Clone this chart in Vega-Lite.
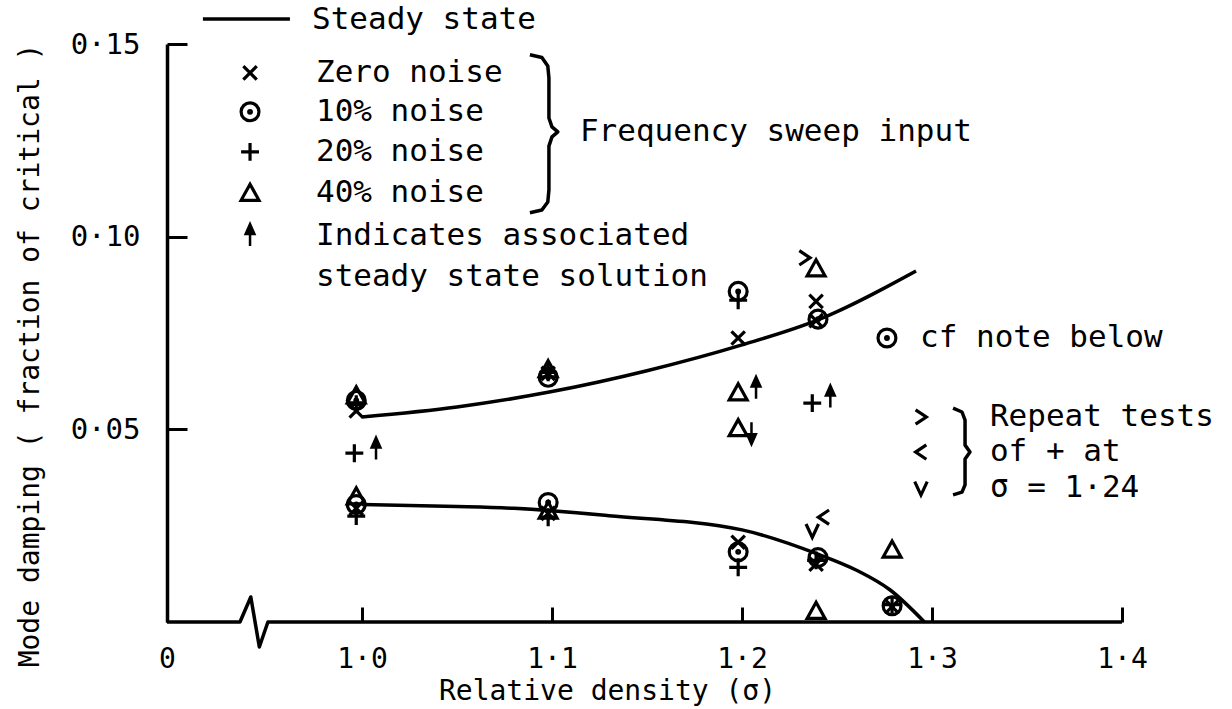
{
  "$schema": "https://vega.github.io/schema/vega-lite/v6.json",
  "width": 955,
  "height": 578,
  "autosize": {"type": "none"},
  "padding": {"left": 167, "top": 44, "right": 110, "bottom": 87},
  "background": "white",
  "config": {"view": {"stroke": null}, "font": "DejaVu Sans Mono"},
  "datasets": {
    "curves": [
      {"id": "upper", "i": 1, "x": 1.0, "y": 0.0532},
      {"id": "upper", "i": 2, "x": 1.05, "y": 0.0558},
      {"id": "upper", "i": 3, "x": 1.1, "y": 0.0598},
      {"id": "upper", "i": 4, "x": 1.15, "y": 0.0652},
      {"id": "upper", "i": 5, "x": 1.2, "y": 0.0719},
      {"id": "upper", "i": 6, "x": 1.24, "y": 0.0784},
      {"id": "upper", "i": 7, "x": 1.2916, "y": 0.0911},
      {"id": "lower", "i": 1, "x": 1.0, "y": 0.0305},
      {"id": "lower", "i": 2, "x": 1.05, "y": 0.0300},
      {"id": "lower", "i": 3, "x": 1.08, "y": 0.0295},
      {"id": "lower", "i": 4, "x": 1.13, "y": 0.0276},
      {"id": "lower", "i": 5, "x": 1.2, "y": 0.0239},
      {"id": "lower", "i": 6, "x": 1.24, "y": 0.0176},
      {"id": "lower", "i": 7, "x": 1.26, "y": 0.0135},
      {"id": "lower", "i": 8, "x": 1.278, "y": 0.0083},
      {"id": "lower", "i": 9, "x": 1.296, "y": 0.0},
      {"id": "legend", "i": 1, "x": 0.9163, "y": 0.1565},
      {"id": "legend", "i": 2, "x": 0.9621, "y": 0.1565}
    ],
    "guides": [
      {"id": "base", "i": 1, "x": 0.8974, "y": 0},
      {"id": "base", "i": 2, "x": 0.9358, "y": 0},
      {"id": "base", "i": 3, "x": 0.9415, "y": 0.0065},
      {"id": "base", "i": 4, "x": 0.946, "y": -0.0065},
      {"id": "base", "i": 5, "x": 0.9505, "y": 0},
      {"id": "base", "i": 6, "x": 1.4, "y": 0},
      {"id": "brace1", "i": 1, "x": 1.0884, "y": 0.1472},
      {"id": "brace1", "i": 2, "x": 1.0947, "y": 0.1465},
      {"id": "brace1", "i": 3, "x": 1.0978, "y": 0.1443},
      {"id": "brace1", "i": 4, "x": 1.0984, "y": 0.1412},
      {"id": "brace1", "i": 5, "x": 1.0984, "y": 0.1308},
      {"id": "brace1", "i": 6, "x": 1.1, "y": 0.1285},
      {"id": "brace1", "i": 7, "x": 1.1031, "y": 0.1272},
      {"id": "brace1", "i": 8, "x": 1.1, "y": 0.1259},
      {"id": "brace1", "i": 9, "x": 1.0984, "y": 0.1235},
      {"id": "brace1", "i": 10, "x": 1.0984, "y": 0.1121},
      {"id": "brace1", "i": 11, "x": 1.0978, "y": 0.109},
      {"id": "brace1", "i": 12, "x": 1.0947, "y": 0.1069},
      {"id": "brace1", "i": 13, "x": 1.0884, "y": 0.1062},
      {"id": "brace2", "i": 1, "x": 1.3111, "y": 0.0555},
      {"id": "brace2", "i": 2, "x": 1.3158, "y": 0.0545},
      {"id": "brace2", "i": 3, "x": 1.3174, "y": 0.0524},
      {"id": "brace2", "i": 4, "x": 1.3174, "y": 0.0459},
      {"id": "brace2", "i": 5, "x": 1.32, "y": 0.0441},
      {"id": "brace2", "i": 6, "x": 1.3174, "y": 0.0423},
      {"id": "brace2", "i": 7, "x": 1.3174, "y": 0.0356},
      {"id": "brace2", "i": 8, "x": 1.3158, "y": 0.0337},
      {"id": "brace2", "i": 9, "x": 1.3111, "y": 0.033}
    ],
    "points": [
      {"s": "Zero noise", "x": 0.9411, "y": 0.1425},
      {"s": "10% noise", "x": 0.9411, "y": 0.1324},
      {"s": "20% noise", "x": 0.9411, "y": 0.122},
      {"s": "40% noise", "x": 0.9411, "y": 0.1113},
      {"s": "10% noise", "x": 1.2763, "y": 0.0737},
      {"s": ">", "x": 1.2942, "y": 0.0532},
      {"s": "<", "x": 1.2942, "y": 0.0441},
      {"s": "v", "x": 1.2942, "y": 0.0348},
      {"s": "40% noise", "x": 0.997, "y": 0.0587},
      {"s": "10% noise", "x": 0.997, "y": 0.0575},
      {"s": "Zero noise", "x": 0.997, "y": 0.0548},
      {"s": "20% noise", "x": 0.997, "y": 0.0565},
      {"s": "20% noise", "x": 0.996, "y": 0.0438},
      {"s": "40% noise", "x": 0.997, "y": 0.0325},
      {"s": "10% noise", "x": 0.997, "y": 0.0305},
      {"s": "Zero noise", "x": 0.997, "y": 0.0295},
      {"s": "20% noise", "x": 0.997, "y": 0.0275},
      {"s": "40% noise", "x": 1.098, "y": 0.0655},
      {"s": "10% noise", "x": 1.098, "y": 0.0635},
      {"s": "Zero noise", "x": 1.098, "y": 0.0645},
      {"s": "20% noise", "x": 1.098, "y": 0.0648},
      {"s": "40% noise", "x": 1.098, "y": 0.0288},
      {"s": "10% noise", "x": 1.098, "y": 0.031},
      {"s": "Zero noise", "x": 1.098, "y": 0.0282},
      {"s": "20% noise", "x": 1.098, "y": 0.0272},
      {"s": "10% noise", "x": 1.198, "y": 0.0858},
      {"s": "20% noise", "x": 1.198, "y": 0.0835},
      {"s": "Zero noise", "x": 1.198, "y": 0.0737},
      {"s": "40% noise", "x": 1.198, "y": 0.0595},
      {"s": "40% noise", "x": 1.198, "y": 0.0502},
      {"s": "Zero noise", "x": 1.198, "y": 0.0207},
      {"s": "10% noise", "x": 1.198, "y": 0.0182},
      {"s": "20% noise", "x": 1.198, "y": 0.0142},
      {"s": "40% noise", "x": 1.239, "y": 0.0917},
      {"s": ">", "x": 1.233, "y": 0.0945},
      {"s": "Zero noise", "x": 1.239, "y": 0.0832},
      {"s": "10% noise", "x": 1.24, "y": 0.0786},
      {"s": "Zero noise", "x": 1.239, "y": 0.0782},
      {"s": "20% noise", "x": 1.237, "y": 0.0568},
      {"s": "<", "x": 1.243, "y": 0.0272},
      {"s": "v", "x": 1.237, "y": 0.0238},
      {"s": "10% noise", "x": 1.24, "y": 0.0167},
      {"s": "Zero noise", "x": 1.239, "y": 0.015},
      {"s": "20% noise", "x": 1.239, "y": 0.016},
      {"s": "40% noise", "x": 1.239, "y": 0.0028},
      {"s": "10% noise", "x": 1.279, "y": 0.0042},
      {"s": "Zero noise", "x": 1.279, "y": 0.0040},
      {"s": "20% noise", "x": 1.279, "y": 0.0045},
      {"s": "40% noise", "x": 1.279, "y": 0.0187}
    ],
    "arrows": [
      {"s": "up", "x": 0.9411, "y": 0.1004},
      {"s": "up", "x": 1.0074, "y": 0.045},
      {"s": "up", "x": 1.2074, "y": 0.0608},
      {"s": "down", "x": 1.205, "y": 0.049},
      {"s": "up", "x": 1.2465, "y": 0.0585}
    ],
    "labels": [
      {"t": "Steady state", "x": 0.9737, "y": 0.1562},
      {"t": "Zero noise", "x": 0.9758, "y": 0.1425},
      {"t": "10% noise", "x": 0.9758, "y": 0.1324},
      {"t": "20% noise", "x": 0.9758, "y": 0.122},
      {"t": "40% noise", "x": 0.9758, "y": 0.1113},
      {"t": "Indicates associated", "x": 0.9758, "y": 0.1002},
      {"t": "steady state solution", "x": 0.9758, "y": 0.0895},
      {"t": "Frequency sweep input", "x": 1.1147, "y": 0.1272},
      {"t": "cf note below", "x": 1.2937, "y": 0.0737},
      {"t": "Repeat tests", "x": 1.3305, "y": 0.0532},
      {"t": "of + at", "x": 1.3305, "y": 0.0441},
      {"t": "σ = 1·24", "x": 1.3305, "y": 0.0348}
    ]
  },
  "layer": [
    {
      "data": {"name": "curves"},
      "mark": {"type": "line", "interpolate": "monotone", "stroke": "black", "strokeWidth": 3.5},
      "encoding": {
        "x": {
          "field": "x", "type": "quantitative",
          "scale": {"domain": [0.8974, 1.4], "nice": false, "zero": false},
          "axis": {
            "values": [0.8974, 1.0, 1.1, 1.2, 1.3, 1.4],
            "labelExpr": "datum.value < 0.95 ? '0' : replace(format(datum.value, '.1f'), '.', '·')",
            "domain": false, "grid": false,
            "tickSize": -15, "tickWidth": 3, "tickColor": "black",
            "labelPadding": 38, "labelFontSize": 28, "labelColor": "black", "labelFlush": false,
            "labelFont": "DejaVu Sans Mono",
            "title": "Relative density (σ)", "titleFontSize": 28, "titleFontWeight": "normal",
            "titleColor": "black", "titleFont": "DejaVu Sans Mono",
            "titleX": 440, "titleY": 69, "titleAlign": "center", "titleBaseline": "middle"
          }
        },
        "y": {
          "field": "y", "type": "quantitative",
          "scale": {"domain": [0, 0.15], "nice": false, "zero": false},
          "axis": {
            "values": [0.05, 0.1, 0.15],
            "labelExpr": "replace(format(datum.value, '.2f'), '.', '·')",
            "domain": true, "domainWidth": 3.5, "domainColor": "black", "grid": false,
            "tickSize": -20, "tickWidth": 3, "tickColor": "black",
            "labelPadding": 47, "labelFontSize": 29, "labelColor": "black",
            "labelFont": "DejaVu Sans Mono",
            "title": "Mode damping ( fraction of critical )", "titleFontSize": 28,
            "titleFontWeight": "normal", "titleColor": "black", "titleFont": "DejaVu Sans Mono",
            "titleX": -137, "titleY": 311, "titleAngle": -90, "titleAlign": "center", "titleBaseline": "middle"
          }
        },
        "detail": {"field": "id"},
        "order": {"field": "i"}
      }
    },
    {
      "data": {"name": "guides"},
      "mark": {"type": "line", "interpolate": "linear", "stroke": "black", "strokeWidth": 3.5, "strokeJoin": "round"},
      "encoding": {
        "x": {"field": "x", "type": "quantitative"},
        "y": {"field": "y", "type": "quantitative"},
        "detail": {"field": "id"},
        "order": {"field": "i"}
      }
    },
    {
      "data": {"name": "points"},
      "mark": {"type": "point", "filled": false, "stroke": "black", "strokeWidth": 3.2, "opacity": 1, "size": 320},
      "encoding": {
        "x": {"field": "x", "type": "quantitative"},
        "y": {"field": "y", "type": "quantitative"},
        "shape": {
          "field": "s", "type": "nominal", "legend": null,
          "scale": {
            "domain": ["Zero noise", "10% noise", "20% noise", "40% noise", "up", "down", ">", "<", "v"],
            "range": [
              "M-0.75,-0.75L0.75,0.75M-0.75,0.75L0.75,-0.75",
              "M1,0A1,1,0,1,1,-1,0A1,1,0,1,1,1,0ZM0.15,0A0.15,0.15,0,1,1,-0.15,0A0.15,0.15,0,1,1,0.15,0Z",
              "M-1,0L1,0M0,-1L0,1",
              "M0,-1L1,0.8L-1,0.8Z",
              "M0,1L0,-0.3M-0.4,-0.1L0,-1L0.4,-0.1Z",
              "M0,-1L0,0.3M-0.4,0.1L0,1L0.4,0.1Z",
              "M-0.6,-0.8L0.6,0L-0.6,0.8",
              "M0.6,-0.8L-0.6,0L0.6,0.8",
              "M-0.7,-0.7L0,0.8L0.7,-0.7"
            ]
          }
        }
      }
    },
    {
      "data": {"name": "arrows"},
      "mark": {"type": "point", "filled": true, "fill": "black", "stroke": "black", "strokeWidth": 2.5, "opacity": 1, "size": 480},
      "encoding": {
        "x": {"field": "x", "type": "quantitative"},
        "y": {"field": "y", "type": "quantitative"},
        "shape": {"field": "s", "type": "nominal", "legend": null}
      }
    },
    {
      "data": {"name": "labels"},
      "mark": {"type": "text", "align": "left", "baseline": "middle", "font": "DejaVu Sans Mono", "fontSize": 31, "color": "black"},
      "encoding": {
        "x": {"field": "x", "type": "quantitative"},
        "y": {"field": "y", "type": "quantitative"},
        "text": {"field": "t"}
      }
    }
  ]
}
